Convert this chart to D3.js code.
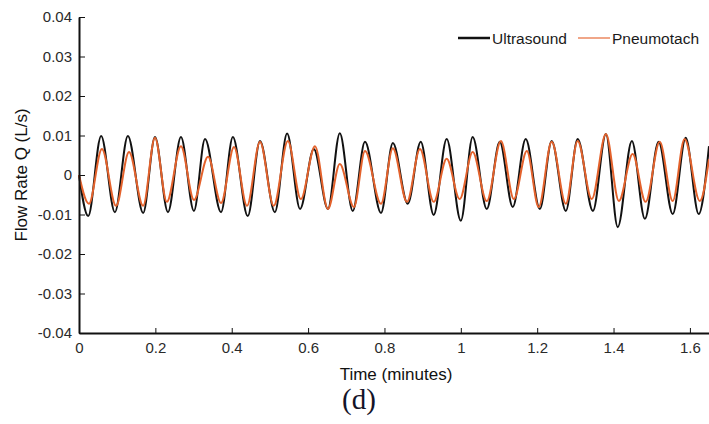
<!DOCTYPE html>
<html>
<head>
<meta charset="utf-8">
<script src="https://cdn.jsdelivr.net/npm/d3@7"></script>
<style>
  body { margin: 0; background: #fff; }
  svg { display: block; font-family: "Liberation Sans", Arial, sans-serif; }
  .axis path, .axis line { stroke: #111; }
  .axis text { fill: #2a2a2a; font-size: 15px; }
</style>
</head>
<body>
<script>
// peaks and troughs (time in minutes, flow in L/s)
var ultraTime = [0, 0.024, 0.058, 0.094, 0.128, 0.168, 0.199, 0.233, 0.267, 0.301, 0.330, 0.372,
    0.403, 0.442, 0.474, 0.513, 0.545, 0.579, 0.615, 0.652, 0.683, 0.717, 0.749, 0.791, 0.822,
    0.861, 0.895, 0.929, 0.963, 1.000, 1.031, 1.068, 1.102, 1.136, 1.170, 1.207, 1.238, 1.275,
    1.306, 1.346, 1.380, 1.411, 1.448, 1.482, 1.518, 1.555, 1.589, 1.623, 1.65];
var ultraFlow = [0, -0.0104, 0.0099, -0.0094, 0.0099, -0.0096, 0.0096, -0.0094, 0.0096, -0.0091,
    0.0091, -0.0094, 0.0096, -0.0104, 0.0086, -0.0094, 0.0105, -0.0086, 0.0066, -0.0086, 0.0106,
    -0.0091, 0.0084, -0.0096, 0.0081, -0.0073, 0.0084, -0.0101, 0.0091, -0.0116, 0.0096, -0.0086,
    0.0084, -0.0081, 0.0091, -0.0086, 0.0086, -0.0091, 0.0091, -0.0091, 0.0104, -0.0132, 0.0086,
    -0.0111, 0.0084, -0.0099, 0.0094, -0.0099, 0.0073];

var pneuTime = [0, 0.026, 0.060, 0.097, 0.131, 0.168, 0.199, 0.230, 0.267, 0.301, 0.338, 0.372,
    0.406, 0.440, 0.474, 0.510, 0.547, 0.581, 0.618, 0.652, 0.683, 0.720, 0.749, 0.791, 0.822,
    0.859, 0.893, 0.929, 0.963, 0.997, 1.031, 1.068, 1.105, 1.139, 1.173, 1.204, 1.238, 1.275,
    1.306, 1.343, 1.380, 1.414, 1.450, 1.484, 1.521, 1.555, 1.586, 1.626, 1.65];
var pneuFlow = [0, -0.0073, 0.0066, -0.0078, 0.0058, -0.0078, 0.0094, -0.0068, 0.0073, -0.0063,
    0.0046, -0.0071, 0.0071, -0.0078, 0.0084, -0.0078, 0.0086, -0.0061, 0.0073, -0.0086, 0.0028,
    -0.0081, 0.0061, -0.0073, 0.0068, -0.0068, 0.0066, -0.0068, 0.0041, -0.0061, 0.0058, -0.0066,
    0.0086, -0.0061, 0.0061, -0.0081, 0.0084, -0.0073, 0.0086, -0.0061, 0.0104, -0.0066, 0.0053,
    -0.0068, 0.0084, -0.0066, 0.0091, -0.0066, 0.004];

var xTicks = [0, 0.2, 0.4, 0.6, 0.8, 1, 1.2, 1.4, 1.6];
var xTickLabels = ["0", "0.2", "0.4", "0.6", "0.8", "1", "1.2", "1.4", "1.6"];
var yTicks = [-0.04, -0.03, -0.02, -0.01, 0, 0.01, 0.02, 0.03, 0.04];
var yTickLabels = ["-0.04", "-0.03", "-0.02", "-0.01", "0", "0.01", "0.02", "0.03", "0.04"];

var seriesNames = ["Ultrasound", "Pneumotach"];
var seriesColors = ["#111111", "#e4622c"];

var w = 709, h = 424;
var svg = d3.select("body").append("svg")
    .attr("width", w)
    .attr("height", h);

var x = d3.scaleLinear().domain([0, 1.65]).range([79, 709]);
var y = d3.scaleLinear().domain([-0.04, 0.04]).range([333, 17]);

var line = d3.line()
    .x(function(d){ return x(d[0]); })
    .y(function(d){ return y(d[1]); })
    .curve(d3.curveMonotoneX);

var ultra = d3.zip(ultraTime, ultraFlow),
    pneu = d3.zip(pneuTime, pneuFlow);

//signals
svg.append("path").datum(ultra)
    .attr("fill", "none")
    .attr("stroke", seriesColors[0])
    .attr("stroke-width", 2)
    .attr("d", line);
svg.append("path").datum(pneu)
    .attr("fill", "none")
    .attr("stroke", seriesColors[1])
    .attr("stroke-width", 2)
    .attr("d", line);

//axes, ticks pointing inward
var xAxis = svg.append("g")
    .attr("class", "axis")
    .attr("transform", "translate(0,333)")
    .call(d3.axisBottom(x)
        .tickValues(xTicks)
        .tickFormat(function(d, i){ return xTickLabels[i]; })
        .tickSizeInner(-5).tickSizeOuter(0).tickPadding(9));
var yAxis = svg.append("g")
    .attr("class", "axis")
    .attr("transform", "translate(79,0)")
    .call(d3.axisLeft(y)
        .tickValues(yTicks)
        .tickFormat(function(d, i){ return yTickLabels[i]; })
        .tickSizeInner(-6).tickSizeOuter(0).tickPadding(7));
svg.selectAll(".axis .domain").attr("stroke-width", 2);
svg.selectAll(".axis text").attr("font-family", null);

//titles
svg.append("text")
    .attr("x", 396).attr("y", 380)
    .attr("text-anchor", "middle")
    .attr("font-size", 17)
    .attr("fill", "#111")
    .text("Time (minutes)");
svg.append("text")
    .attr("transform", "translate(27,175) rotate(-90)")
    .attr("text-anchor", "middle")
    .attr("font-size", 17)
    .attr("fill", "#111")
    .text("Flow Rate Q (L/s)");
svg.append("text")
    .attr("x", 359).attr("y", 409)
    .attr("text-anchor", "middle")
    .attr("font-family", "Liberation Serif, Times New Roman, serif")
    .attr("font-size", 29)
    .attr("fill", "#141428")
    .text("(d)");

//legend
var legendX = [458, 578];
var legend = svg.selectAll(".legend")
    .data(seriesNames)
    .enter()
    .append("g")
    .attr("class", "legend")
    .attr("transform", function(d, i){ return "translate(" + legendX[i] + ",38)"; });
legend.append("line")
    .attr("x1", 0).attr("x2", 32)
    .attr("stroke", function(d, i){ return seriesColors[i]; })
    .attr("stroke-width", function(d, i){ return i ? 1.5 : 2.5; })
    .attr("stroke-opacity", function(d, i){ return i ? 0.75 : 1; });
legend.append("text")
    .attr("x", 34).attr("y", 5.5)
    .attr("font-size", 15.5)
    .attr("fill", "#1a1a1a")
    .text(function(d){ return d; });
</script>
</body>
</html>
